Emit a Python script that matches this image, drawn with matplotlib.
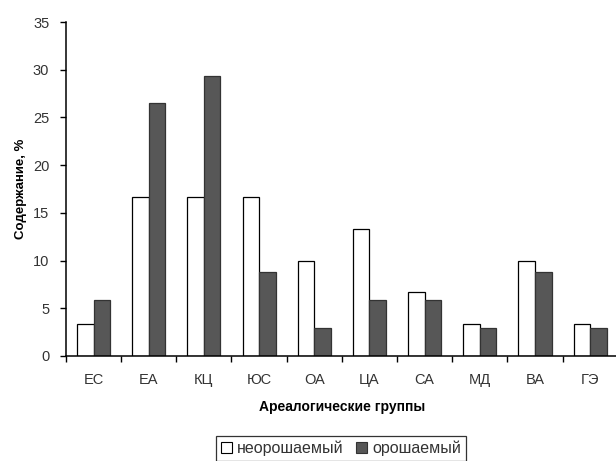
import numpy as np
import matplotlib.pyplot as plt
from matplotlib.patches import Patch

plt.rcParams['font.family'] = ['Liberation Sans', 'DejaVu Sans']

groups = ['ЕС', 'ЕА', 'КЦ', 'ЮС', 'ОА', 'ЦА', 'СА', 'МД', 'ВА', 'ГЭ']
# share of species in each group, %
unirrigated = [3.3, 16.7, 16.7, 16.7, 10.0, 13.3, 6.7, 3.3, 10.0, 3.3]
irrigated = [5.9, 26.5, 29.4, 8.8, 2.9, 5.9, 5.9, 2.9, 8.8, 2.9]
yticks = [0, 5, 10, 15, 20, 25, 30, 35]

fig = plt.figure(figsize=(6.16, 4.61), dpi=100)
ax = fig.add_axes([0.107, 0.228, 0.896, 0.724])

x = np.arange(len(groups))
w = 0.3
ax.bar(x - w / 2, unirrigated, w, color='white', edgecolor='black', linewidth=0.9)
ax.bar(x + w / 2, irrigated, w, color='#575757', edgecolor='#333333', linewidth=0.9)

ax.set_xlim(-0.5, len(groups) - 0.5)
ax.set_ylim(0, 35)
ax.set_yticks(yticks)
ax.set_xticks(x)
ax.set_xticklabels(groups)
ax.set_xticks(np.arange(len(groups) + 1) - 0.5, minor=True)
ax.tick_params(axis='x', which='major', length=0, pad=12, labelsize=10.5, labelcolor='#333333')
ax.tick_params(axis='x', which='minor', length=4, width=1, direction='out')
ax.tick_params(axis='y', length=4, width=1, direction='out', pad=8, labelsize=10.5, labelcolor='#333333')

for s in ['top', 'right']:
    ax.spines[s].set_visible(False)
for s in ['left', 'bottom']:
    ax.spines[s].set_linewidth(1.1)

ax.set_ylabel('Содержание, %', fontsize=9.5, fontweight='bold', labelpad=4)
ax.set_xlabel('Ареалогические группы', fontsize=10, fontweight='bold', labelpad=10)

handles = [Patch(facecolor='white', edgecolor='black', linewidth=0.8),
           Patch(facecolor='#575757', edgecolor='#333333', linewidth=0.8)]
leg = fig.legend(handles, ['неорошаемый', 'орошаемый'], loc='center',
                 bbox_to_anchor=(0.553, 0.028), ncol=2, frameon=True, fancybox=False,
                 edgecolor='black', fontsize=11.5, handlelength=0.7, handleheight=0.7,
                 handletextpad=0.3, columnspacing=0.8, borderpad=0.3)
leg.get_frame().set_linewidth(0.9)
for t in leg.get_texts():
    t.set_color('#333333')

fig.savefig('out.png', dpi=100)
